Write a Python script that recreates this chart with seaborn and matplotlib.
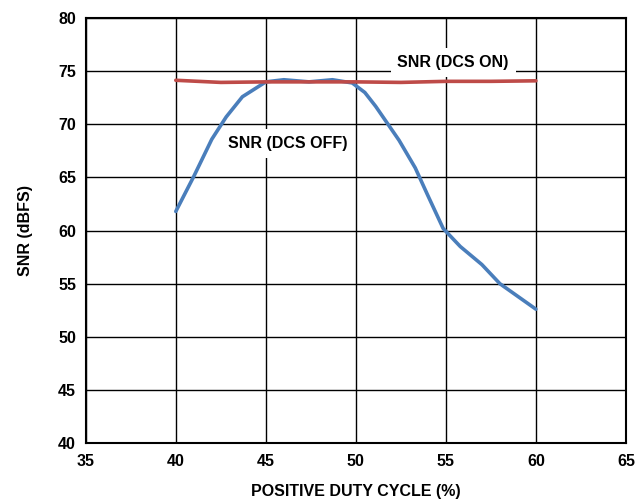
import numpy as np
import pandas as pd
import seaborn as sns
import matplotlib.pyplot as plt

# Data
DUTY_OFF = [40, 41, 42, 42.8, 43.7, 45, 46, 47.4, 48.7, 49.8, 50.5, 51.1, 52.4, 53.3, 54.0, 54.85, 55.8, 57, 58, 59, 60]
SNR_OFF = [61.8, 65.1, 68.6, 70.7, 72.6, 74.0, 74.2, 74.0, 74.2, 73.9, 73.0, 71.7, 68.5, 65.9, 63.3, 60.2, 58.5, 56.8, 55.0, 53.8, 52.6]
DUTY_ON = [40, 42.5, 45, 47.5, 50, 52.5, 55, 57.5, 60]
SNR_ON = [74.15, 73.95, 74.0, 74.0, 74.0, 73.95, 74.05, 74.05, 74.1]

BLUE = '#4a7ebb'
RED = '#be4b48'

sns.set_style('white')
plt.rcParams['font.family'] = ['Liberation Sans', 'DejaVu Sans']
plt.rcParams['font.weight'] = 'bold'
plt.rcParams['text.color'] = 'black'
plt.rcParams['axes.labelcolor'] = 'black'
plt.rcParams['xtick.color'] = 'black'
plt.rcParams['ytick.color'] = 'black'

fig = plt.figure(figsize=(6.4, 5.04), dpi=100)
ax = fig.add_axes([0.134, 0.121, 0.844, 0.843])

off = pd.DataFrame({'duty': DUTY_OFF, 'snr': SNR_OFF})
on = pd.DataFrame({'duty': DUTY_ON, 'snr': SNR_ON})
sns.lineplot(data=off, x='duty', y='snr', color=BLUE, lw=2.6, ax=ax, zorder=3)
sns.lineplot(data=on, x='duty', y='snr', color=RED, lw=2.6, ax=ax, zorder=4)

ax.set_xlim(35, 65)
ax.set_ylim(40, 80)
ax.set_xticks(np.arange(35, 66, 5))
ax.set_yticks(np.arange(40, 81, 5))
ax.grid(True, color='black', lw=1.0)
ax.set_axisbelow(True)
for s in ax.spines.values():
    s.set_color('black')
    s.set_linewidth(1.5)
ax.tick_params(length=0, labelsize=11.5)
ax.tick_params(axis='x', pad=8)
ax.tick_params(axis='y', pad=7)
for lab in ax.get_xticklabels() + ax.get_yticklabels():
    lab.set_fontweight('bold')

ax.set_xlabel('POSITIVE DUTY CYCLE (%)', fontsize=11.5, fontweight='bold', labelpad=11)
ax.set_ylabel('SNR (dBFS)', fontsize=11.5, fontweight='bold', labelpad=18)

box = dict(facecolor='white', edgecolor='none', pad=5)
ax.text(55.4, 75.8, 'SNR (DCS ON)', fontsize=11.5, fontweight='bold',
        ha='center', va='center', bbox=box, zorder=5)
ax.text(46.2, 68.2, 'SNR (DCS OFF)', fontsize=11.5, fontweight='bold',
        ha='center', va='center', bbox=box, zorder=2)

fig.savefig('out.png', dpi=100)
